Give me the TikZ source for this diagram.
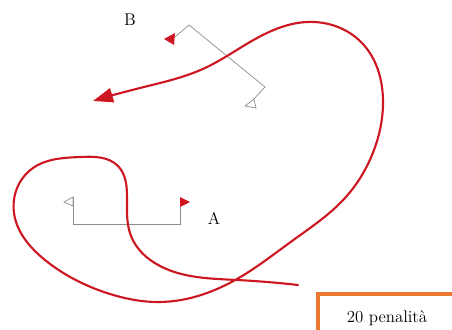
\documentclass[tikz,border=0pt]{standalone}
\usetikzlibrary{arrows.meta,hobby}
\definecolor{trackred}{RGB}{205,22,32}
\definecolor{gategray}{RGB}{140,140,140}
\definecolor{boxorange}{RGB}{232,122,48}
\begin{document}
\begin{tikzpicture}[x=0.025cm, y=-0.025cm, >=stealth,
  track/.style={draw=trackred, line width=1.5pt, line cap=round},
  gate/.style={draw=gategray, line width=0.5pt},
  lbl/.style={font=\large}]
\clip (0,0) rectangle (452,329);
\node[lbl] (b) at (130,20) {B};
\node[lbl] (a) at (214,218) {A};
% gate A
\draw[gate] (73,197) -- (73,224) -- (180,224) -- (180,197);
\draw[gate, fill=white] (73,197) -- (73,206) -- (64,202) -- cycle;
\fill[trackred] (180,197) -- (180,207) -- (190,202) -- cycle;
% gate B
\draw[gate] (175,37) -- (189,25) -- (265,87) -- (253,100);
\fill[trackred] (175,33) -- (174,45) -- (164,39) -- cycle;
\draw[gate, fill=white] (254,99) -- (256,108) -- (245,106) -- cycle;
% track
\draw[track, use Hobby shortcut, -{Triangle[length=5mm,width=3.6mm]}]
  (298,285) .. (237,280) .. (160,266) .. (131,236) .. (127,200)
  .. (118,166) .. (80,157) .. (33,168) .. (14,213) .. (45,260)
  .. (110,294) .. (160,302) .. (237,279) .. (292,241) .. (345,198)
  .. (374,150) .. (383,100) .. (362,43) .. (307,22) .. (250,42)
  .. (205,68) .. (140,88) .. (93,101);
% penalty box
\draw[boxorange, line width=2.2pt] (318,294) rectangle (470,345);
\node[lbl] (pen) at (387,318) {20 penalità};
\end{tikzpicture}
\end{document}
